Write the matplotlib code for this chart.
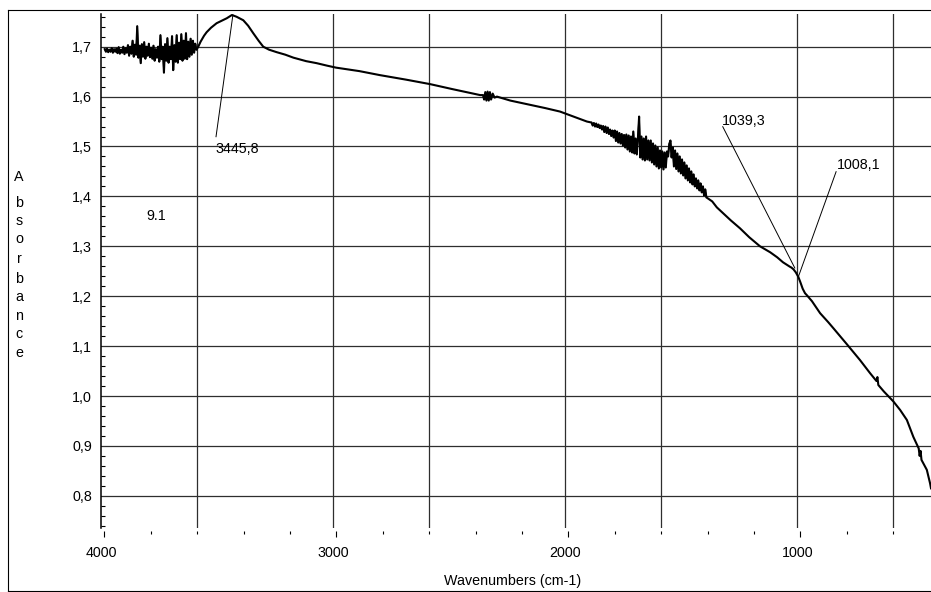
import numpy as np
import matplotlib
matplotlib.use("Agg")
import matplotlib.pyplot as plt
from matplotlib.lines import Line2D
from matplotlib.ticker import FixedLocator

plt.rcParams['font.family'] = ['Liberation Sans', 'DejaVu Sans']

# ---------------- data ----------------
# smooth part 1: 3596 -> 1920 cm-1
seg1_wn = [3596, 3585, 3570, 3559, 3540, 3516, 3490, 3472, 3450, 3430, 3401, 3380, 3358,
           3335, 3315, 3290, 3257, 3220, 3185, 3130, 3085, 3040, 3001, 2900, 2812, 2700,
           2596, 2500, 2420, 2380, 2368, 2363, 2358, 2353, 2348, 2343, 2338, 2333,
           2326, 2318, 2308, 2250, 2150, 2100, 2036, 1990, 1950, 1920]
seg1_abs = [1.699, 1.710, 1.722, 1.729, 1.738, 1.747, 1.753, 1.757, 1.7635, 1.760, 1.753, 1.742, 1.727,
            1.712, 1.700, 1.694, 1.689, 1.684, 1.678, 1.671, 1.667, 1.662, 1.658, 1.651, 1.643, 1.634,
            1.625, 1.615, 1.607, 1.603, 1.603, 1.594, 1.609, 1.592, 1.610, 1.592, 1.609, 1.594,
            1.606, 1.598, 1.600, 1.592, 1.582, 1.577, 1.570, 1.562, 1.555, 1.550]

# noisy region 4000 -> 3600 cm-1 (readings every 5 cm-1)
noise1_wn = np.arange(3998, 3600, -5)
noise1_abs = [1.695, 1.690, 1.696, 1.689, 1.694, 1.690, 1.697, 1.688, 1.695, 1.690,
              1.696, 1.687, 1.699, 1.686, 1.694, 1.688, 1.700, 1.685, 1.697, 1.688,
              1.703, 1.682, 1.700, 1.686, 1.712, 1.680, 1.704, 1.684, 1.741, 1.678,
              1.702, 1.667, 1.705, 1.680, 1.709, 1.676, 1.700, 1.682, 1.706, 1.679,
              1.698, 1.676, 1.702, 1.672, 1.695, 1.678, 1.700, 1.670, 1.723, 1.675,
              1.700, 1.648, 1.705, 1.672, 1.717, 1.668, 1.700, 1.675, 1.721, 1.653,
              1.703, 1.670, 1.723, 1.668, 1.708, 1.675, 1.725, 1.672, 1.712, 1.676,
              1.727, 1.675, 1.710, 1.680, 1.716, 1.684, 1.712, 1.688, 1.706, 1.694]

# noisy region 1900 -> 1405 cm-1 (readings every 5 cm-1)
noise2_wn = np.arange(1900, 1400, -5)
noise2_abs = [1.548, 1.542, 1.547, 1.540, 1.546, 1.539, 1.544, 1.537, 1.542, 1.534,
              1.541, 1.529, 1.540, 1.527, 1.538, 1.525, 1.534, 1.521, 1.532, 1.518,
              1.532, 1.511, 1.530, 1.508, 1.527, 1.506, 1.525, 1.502, 1.523, 1.498,
              1.524, 1.494, 1.522, 1.490, 1.520, 1.488, 1.530, 1.486, 1.516, 1.484,
              1.518, 1.560, 1.478, 1.520, 1.474, 1.516, 1.472, 1.520, 1.474, 1.512,
              1.472, 1.512, 1.468, 1.506, 1.464, 1.502, 1.460, 1.498, 1.456, 1.492,
              1.458, 1.490, 1.454, 1.488, 1.458, 1.490, 1.480, 1.505, 1.512, 1.478,
              1.498, 1.460, 1.492, 1.455, 1.486, 1.450, 1.480, 1.446, 1.474, 1.442,
              1.468, 1.436, 1.462, 1.432, 1.456, 1.428, 1.450, 1.424, 1.444, 1.420,
              1.436, 1.416, 1.432, 1.412, 1.426, 1.408, 1.420, 1.402, 1.414, 1.398]

# smooth part 2: 1380 -> 437 cm-1
seg2_wn = [1380, 1360, 1330, 1300, 1260, 1220, 1174, 1130, 1100, 1075, 1055, 1045, 1039,
           1030, 1020, 1009, 1000, 990, 980, 972, 950, 915, 880, 858, 800, 743, 700,
           672, 668, 664, 640, 599, 570, 541, 513, 490, 486, 482, 478, 470, 455, 441, 437]
seg2_abs = [1.390, 1.378, 1.365, 1.352, 1.336, 1.318, 1.300, 1.288, 1.278, 1.268, 1.262, 1.259, 1.2575,
            1.254, 1.248, 1.239, 1.228, 1.215, 1.206, 1.202, 1.190, 1.166, 1.148, 1.136, 1.104, 1.072, 1.046,
            1.030, 1.038, 1.022, 1.009, 0.989, 0.972, 0.952, 0.918, 0.895, 0.880, 0.890, 0.872, 0.865, 0.852, 0.825, 0.815]

xtick_values = [4000, 3000, 2000, 1000]
xtick_labels = ['4000', '3000', '2000', '1000']
ytick_values = [0.8, 0.9, 1.0, 1.1, 1.2, 1.3, 1.4, 1.5, 1.6, 1.7]
ytick_labels = ['0,8', '0,9', '1,0', '1,1', '1,2', '1,3', '1,4', '1,5', '1,6', '1,7']
peak_labels = ['3445,8', '1039,3', '1008,1']
sample_label = '9.1'

# ---------------- figure ----------------
W, H = 931, 592
fig = plt.figure(figsize=(W / 100, H / 100), dpi=100)
fig.patch.set_facecolor('white')
ax = fig.add_axes([101 / W, (H - 528) / H, (W - 101) / W, (528 - 14) / H])

xmin, xmax = 4014.2, 437
ax.set_xlim(xmin, xmax)
ax.set_ylim(0.7355, 1.7655)

FS = 10.3
gridc = '#2e2e2e'
for v in ytick_values:
    ax.axhline(v, color=gridc, lw=0.9, zorder=1)
label_shift = 13  # labels / 1000-gridlines sit ~3 px left of the tick marks
vgrid = [3600, 2600, 1600, 600] + [v + label_shift for v in xtick_values[1:]]
for v in vgrid:
    ax.axvline(v, color=gridc, lw=0.9, zorder=1)

wn = np.concatenate([noise1_wn, seg1_wn, noise2_wn, seg2_wn])
ab = np.concatenate([noise1_abs, seg1_abs, noise2_abs, seg2_abs])
ax.plot(noise1_wn, noise1_abs, color='black', lw=1.0, zorder=3)
ax.plot(noise2_wn, noise2_abs, color='black', lw=1.0, zorder=3)
ax.plot(wn, ab, color='black', lw=1.5, zorder=3, solid_joinstyle='round')

# spines
for s in ['top', 'right']:
    ax.spines[s].set_visible(False)
ax.spines['left'].set_linewidth(1.1)
ax.spines['bottom'].set_position(('outward', 2.2))
ax.spines['bottom'].set_color('none')

# y ticks
ax.set_yticks(ytick_values)
ax.set_yticklabels(ytick_labels, fontsize=FS)
ax.yaxis.set_minor_locator(FixedLocator(np.round(np.arange(0.74, 1.77, 0.02), 3)))
ax.tick_params(axis='y', which='major', length=0, pad=6.4)
ax.tick_params(axis='y', which='minor', direction='in', length=3.2, width=0.8)

# x tick marks
ax.set_xticks(xtick_values)
ax.set_xticklabels([])
ax.xaxis.set_minor_locator(FixedLocator(np.arange(3800, 430, -200)))
ax.tick_params(axis='x', which='major', direction='out', length=4.6, width=0.8)
ax.tick_params(axis='x', which='minor', direction='out', length=2.2, width=0.8)

# x tick labels via secondary axis
sec = ax.secondary_xaxis('bottom')
sec.set_xticks([v + label_shift for v in xtick_values], xtick_labels)
sec.tick_params(axis='x', length=0, pad=13.0, labelsize=FS)
for s in sec.spines.values():
    s.set_visible(False)

# annotations
ax.plot([3518.5, 3445.8], [1.5196, 1.7635], color='black', lw=0.7, zorder=4)
ax.text(3523, 1.4864, peak_labels[0], fontsize=FS, ha='left', va='baseline')
ax.plot([1334.5, 1024], [1.5397, 1.2565], color='black', lw=0.7, zorder=4)
ax.text(1339, 1.5431, peak_labels[1], fontsize=FS, ha='left', va='baseline')
ax.plot([846, 1008.6], [1.4495, 1.239], color='black', lw=0.7, zorder=4)
ax.text(843, 1.4544, peak_labels[2], fontsize=FS, ha='left', va='baseline')
ax.text(3817, 1.3527, sample_label, fontsize=FS, ha='left', va='baseline')

# axis titles
fig.text(512.5 / W, 1 - 585 / H, 'Wavenumbers (cm-1)', fontsize=FS, ha='center', va='baseline')
ylab = 'Absorbance'
ylab_baselines = [180.7, 206.7, 225, 243.3, 263.3, 282.7, 300.7, 320, 338.3, 356.7]
for ch, yb in zip(ylab, ylab_baselines):
    fig.text(19 / W, 1 - yb / H, ch, fontsize=FS, ha='center', va='baseline')

# outer frame
lw_f = 0.8
fig.add_artist(Line2D([7.5 / W, 7.5 / W], [1 - 10 / H, 1 - 590.5 / H], color='black', lw=lw_f))
fig.add_artist(Line2D([7.5 / W, 1.0], [1 - 10 / H, 1 - 10 / H], color='black', lw=lw_f))
fig.add_artist(Line2D([7.5 / W, 1.0], [1 - 590.5 / H, 1 - 590.5 / H], color='black', lw=lw_f))

fig.savefig('out.png', dpi=100)
